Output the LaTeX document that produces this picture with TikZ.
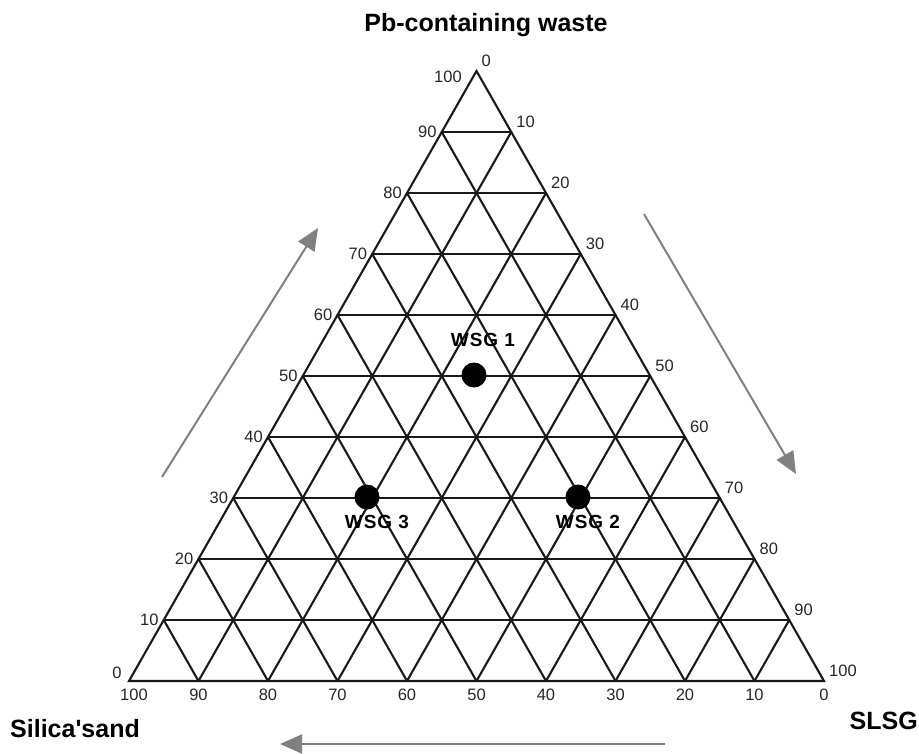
\documentclass[tikz,border=0pt]{standalone}
\usepackage{fontspec}
\setmainfont{Liberation Sans}
\newfontfamily\wsgfont[LetterSpace=5]{Liberation Sans}
\usetikzlibrary{arrows.meta,calc}
\begin{document}
\begin{tikzpicture}[x=1pt,y=-1pt,
  grid/.style={line width=2.1pt, draw=black!90, line cap=round},
  tick/.style={font=\fontsize{16.5}{16.5}\selectfont, inner sep=0pt, text=black!85},
  axislabel/.style={font=\fontsize{25}{25}\selectfont\bfseries, inner sep=0pt},
  dir/.style={draw=black!50, line width=2pt, -{Triangle[length=22pt,width=19pt]}},
  sample/.style={circle, fill=black, minimum size=25pt, inner sep=0pt},
  samplelabel/.style={font=\wsgfont\bfseries\fontsize{19}{19}\selectfont, inner sep=0pt}]
\useasboundingbox (0,0) rectangle (919,753);
\coordinate (A) at (129,681);
\coordinate (B) at (824,681);
\coordinate (C) at (476.5,71);
% grid
\foreach \i in {1,...,9}{
  \pgfmathsetmacro\t{\i/10}
  \pgfmathsetmacro\s{1-\i/10}
  \draw[grid] ($(A)!\t!(C)$) -- ($(B)!\t!(C)$);
  \draw[grid] ($(A)!\t!(B)$) -- ($(B)!\s!(C)$);
  \draw[grid] ($(A)!\t!(B)$) -- ($(A)!\t!(C)$);
}
\draw[grid, line join=miter] (A) -- (B) -- (C) -- cycle;
% tick labels
\foreach \i in {0,...,10}{
  \pgfmathsetmacro\t{\i/10}
  \pgfmathtruncatemacro\v{10*\i}
  \pgfmathtruncatemacro\w{100-10*\i}
  \ifnum\i>0 \ifnum\i<10
    \node[tick, anchor=east] (l\i) at ($(A)!\t!(C)+(-5,0)$) {\v};
  \fi\fi
  \node[tick, anchor=south west] (r\i) at ($(C)!\t!(B)+(5,-4)$) {\v};
  \ifnum\i>0
    \node[tick, anchor=north] (b\i) at ($(A)!\t!(B)+(0,8)$) {\w};
  \fi
}
\node[tick] (l0) at (117,673) {0};
\node[tick] (l10) at (448,77) {100};
\node[tick, anchor=north] (b0) at (134,689) {100};
% axis titles
\node[axislabel] (top) at (486,25) {Pb-containing waste};
\node[axislabel, anchor=west] (sil) at (10,729) {Silica\textquotesingle sand};
\node[axislabel, anchor=east] (slsg) at (918,721) {SLSG};
% direction arrows
\coordinate (a1s) at (162,477); \coordinate (a1e) at (318,228);
\coordinate (a2s) at (644,214); \coordinate (a2e) at (796,474);
\coordinate (a3s) at (665,744); \coordinate (a3e) at (280,744);
\draw[dir] (a1s) -- (a1e);
\draw[dir] (a2s) -- (a2e);
\draw[dir] (a3s) -- (a3e);
% samples
\node[sample] (w1) at (474,375) {};
\node[sample] (w2) at (578,497) {};
\node[sample] (w3) at (367,497) {};
\node[samplelabel] (w1l) at (483,340) {WSG 1};
\node[samplelabel] (w2l) at (588,522) {WSG 2};
\node[samplelabel] (w3l) at (377,522) {WSG 3};
\end{tikzpicture}
\end{document}
